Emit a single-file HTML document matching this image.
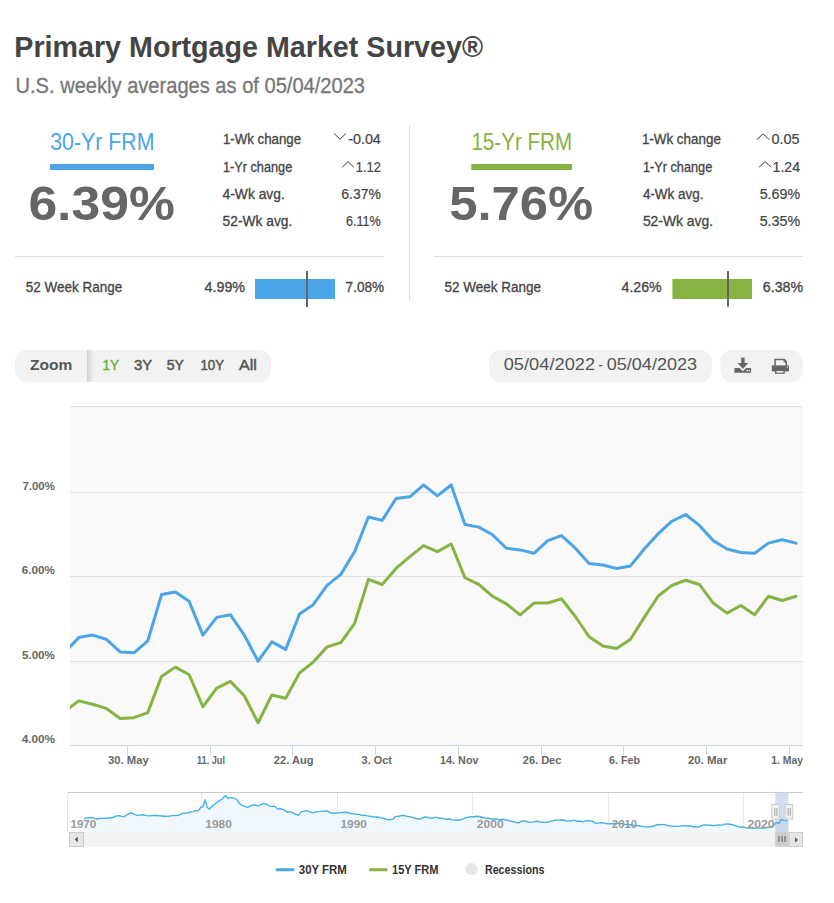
<!DOCTYPE html>
<html><head><meta charset="utf-8">
<style>
html,body{margin:0;padding:0;background:#fff;}
body{width:834px;height:903px;position:relative;overflow:hidden;}
svg{position:absolute;left:0;top:0;}
text{font-family:"Liberation Sans",sans-serif;white-space:pre;}
</style></head><body>
<svg width="834" height="903" viewBox="0 0 834 903">
<path d="M334.2 133.6 L340.0 139.2 L345.8 133.6" fill="none" stroke="#383838" stroke-width="1"/>
<path d="M342.4 167.2 L348.1 161.6 L353.8 167.2" fill="none" stroke="#383838" stroke-width="1"/>
<path d="M756.9 139.5 L763.0999999999999 133.9 L769.3 139.5" fill="none" stroke="#383838" stroke-width="1"/>
<path d="M759.1 167.2 L765.1 161.6 L771.1 167.2" fill="none" stroke="#383838" stroke-width="1"/>
<rect x="50" y="164" width="104" height="6" fill="#4ba5e6"/>
<rect x="471.3" y="164" width="100.8" height="6" fill="#86b342"/>
<path d="M15 256.5 H384" stroke="#dddddd" stroke-width="1"/>
<path d="M434 256.5 H803" stroke="#dddddd" stroke-width="1"/>
<path d="M409.5 125 V300" stroke="#dddddd" stroke-width="1"/>
<rect x="255" y="279" width="80" height="20" fill="#4ba5e6"/>
<rect x="306" y="271" width="2" height="36" fill="#666"/>
<rect x="672.4" y="279" width="79.6" height="20" fill="#86b342"/>
<rect x="727" y="271" width="2" height="35.5" fill="#666"/>
<rect x="15" y="350" width="256" height="32" rx="12" fill="#f2f2f2"/>
<rect x="87" y="350" width="1" height="32" fill="#d2d2d2"/>
<defs><linearGradient id="sh" x1="0" x2="1"><stop offset="0" stop-color="#d8d8d8"/><stop offset="1" stop-color="#f2f2f2"/></linearGradient></defs>
<rect x="88" y="350" width="6" height="32" fill="url(#sh)"/>
<rect x="489" y="350" width="223" height="32" rx="12" fill="#f2f2f2"/>
<rect x="720.3" y="350" width="82.5" height="32" rx="12" fill="#f2f2f2"/>
<g fill="#666">
<rect x="741.2" y="357.6" width="3.4" height="5.8"/>
<path d="M737.6 363 H748.2 L742.9 369 Z"/>
<path d="M734.4 368 H739.6 L742.9 371.2 L746.2 368 H751.1 V372.7 H734.4 Z"/>
</g>
<rect x="746.6" y="369.9" width="1.3" height="1.5" fill="#f2f2f2"/>
<rect x="748.7" y="369.9" width="1.3" height="1.5" fill="#f2f2f2"/>
<g fill="#666">
<path d="M774.3 358.8 H784.6 L787 361.2 V365.5 H774.3 Z"/>
<rect x="771.8" y="365.3" width="17.2" height="6.3" rx="1.3"/>
<rect x="775" y="369.6" width="9.8" height="4.2"/>
</g>
<path d="M775.8 360.3 H783.9 L785.5 361.9 V365.3 H775.8 Z" fill="#f2f2f2"/>
<path d="M784 359.4 V362 H786.5" fill="none" stroke="#666" stroke-width="0.9"/>
<rect x="776.4" y="371" width="7" height="1.6" fill="#f2f2f2"/>
<rect x="787" y="366.6" width="1" height="1" fill="#f2f2f2"/>
<rect x="70" y="406" width="733" height="339" fill="#f9f9f9"/>
<path d="M70 406.5 H803" stroke="#e0e0e0" stroke-width="1"/>
<path d="M70 492.5 H803" stroke="#e0e0e0" stroke-width="1"/>
<path d="M70 576.5 H803" stroke="#e0e0e0" stroke-width="1"/>
<path d="M70 661.5 H803" stroke="#e0e0e0" stroke-width="1"/>
<clipPath id="pc"><rect x="70" y="400" width="733" height="345"/></clipPath>
<g clip-path="url(#pc)">
<path d="M65.01 710.97 L78.80 700.85 L92.59 704.22 L106.38 708.44 L120.18 718.56 L133.97 717.71 L147.76 712.65 L161.55 676.39 L175.34 667.12 L189.14 674.71 L202.93 706.75 L216.72 688.20 L230.51 681.45 L244.30 695.79 L258.10 722.77 L271.89 694.95 L285.68 698.32 L299.47 673.02 L313.26 662.06 L327.06 646.88 L340.85 642.66 L354.64 623.26 L368.43 579.41 L382.22 584.47 L396.02 568.45 L409.81 556.64 L423.60 545.68 L437.39 551.58 L451.18 543.99 L464.98 577.73 L478.77 584.47 L492.56 596.28 L506.35 603.87 L520.14 614.83 L533.94 603.03 L547.73 603.03 L561.52 598.81 L575.31 616.52 L589.10 636.76 L602.90 646.03 L616.69 648.56 L630.48 639.29 L644.27 617.36 L658.06 596.28 L671.86 585.32 L685.65 580.26 L699.44 584.47 L713.23 603.03 L727.02 613.15 L740.82 605.56 L754.61 614.83 L768.40 596.28 L782.19 600.50 L795.98 596.28" fill="none" stroke="#86b342" stroke-width="3" stroke-linejoin="round" stroke-linecap="round"/>
<path d="M65.01 651.94 L78.80 637.60 L92.59 635.07 L106.38 639.29 L120.18 651.94 L133.97 652.78 L147.76 640.97 L161.55 594.59 L175.34 592.06 L189.14 601.34 L202.93 635.07 L216.72 617.36 L230.51 614.83 L244.30 635.07 L258.10 661.21 L271.89 641.82 L285.68 649.41 L299.47 613.99 L313.26 604.71 L327.06 585.32 L340.85 574.35 L354.64 551.58 L368.43 517.01 L382.22 520.38 L396.02 498.46 L409.81 496.77 L423.60 484.96 L437.39 495.93 L451.18 484.96 L464.98 524.60 L478.77 527.13 L492.56 534.72 L506.35 548.21 L520.14 549.90 L533.94 553.27 L547.73 540.62 L561.52 535.56 L575.31 548.21 L589.10 563.39 L602.90 565.08 L616.69 568.45 L630.48 565.92 L644.27 549.05 L658.06 533.88 L671.86 521.23 L685.65 514.48 L699.44 525.44 L713.23 540.62 L727.02 549.05 L740.82 552.43 L754.61 553.27 L768.40 543.15 L782.19 539.78 L795.98 543.15" fill="none" stroke="#4ba5e6" stroke-width="3" stroke-linejoin="round" stroke-linecap="round"/>
</g>
<path d="M70 745.5 H803" stroke="#ccd6eb" stroke-width="1"/>
<path d="M127.5 745 V755" stroke="#ccd6eb" stroke-width="1"/>
<path d="M210.5 745 V755" stroke="#ccd6eb" stroke-width="1"/>
<path d="M292.5 745 V755" stroke="#ccd6eb" stroke-width="1"/>
<path d="M375.5 745 V755" stroke="#ccd6eb" stroke-width="1"/>
<path d="M458.5 745 V755" stroke="#ccd6eb" stroke-width="1"/>
<path d="M541.5 745 V755" stroke="#ccd6eb" stroke-width="1"/>
<path d="M623.5 745 V755" stroke="#ccd6eb" stroke-width="1"/>
<path d="M706.5 745 V755" stroke="#ccd6eb" stroke-width="1"/>
<path d="M789.5 745 V755" stroke="#ccd6eb" stroke-width="1"/>
<rect x="68" y="792" width="735" height="40" fill="#fff"/>
<path d="M201.5 793 V832" stroke="#e6e6e6" stroke-width="1"/>
<path d="M337.5 793 V832" stroke="#e6e6e6" stroke-width="1"/>
<path d="M472.5 793 V832" stroke="#e6e6e6" stroke-width="1"/>
<path d="M608.5 793 V832" stroke="#e6e6e6" stroke-width="1"/>
<path d="M743.5 793 V832" stroke="#e6e6e6" stroke-width="1"/>
<path d="M67.5 793 V832" stroke="#e6e6e6" stroke-width="1"/>
<path d="M84.2 818.5 L86.9 817.9 L89.6 817.6 L92.8 817.8 L96.0 818.7 L98.5 818.7 L101.1 818.1 L103.6 818.4 L106.1 818.2 L108.7 817.8 L111.2 818.1 L113.9 817.0 L116.6 815.9 L119.1 815.8 L121.6 816.4 L124.1 816.8 L127.3 814.5 L130.6 812.9 L133.8 813.8 L137.1 815.5 L140.3 815.1 L143.5 814.8 L146.8 815.6 L150.0 815.9 L153.2 815.4 L156.5 815.5 L159.8 815.7 L163.0 816.3 L165.6 816.3 L168.2 816.4 L170.7 815.9 L173.3 815.6 L175.9 815.5 L178.8 815.2 L181.7 813.6 L184.6 813.3 L187.5 813.1 L190.3 812.0 L193.2 811.6 L195.9 810.7 L198.6 810.5 L200.7 807.3 L202.9 806.8 L205.1 799.7 L207.2 807.3 L209.4 809.0 L212.1 806.2 L214.8 804.0 L218.0 801.7 L221.2 799.7 L223.4 797.8 L225.6 795.4 L227.7 798.2 L231.0 797.6 L233.7 798.1 L236.4 799.1 L240.7 804.7 L243.0 805.6 L245.3 806.6 L247.6 807.3 L251.9 805.1 L255.1 805.3 L258.3 805.8 L261.0 804.6 L263.7 803.4 L266.9 804.5 L270.2 806.4 L274.5 806.2 L277.8 809.0 L280.5 808.8 L283.2 809.4 L287.5 812.2 L289.6 811.6 L292.5 812.6 L295.4 814.2 L298.3 815.3 L301.5 811.6 L304.2 811.1 L306.9 810.7 L309.6 811.6 L312.3 812.9 L315.0 812.3 L317.7 811.6 L320.1 811.4 L322.5 811.1 L325.0 811.3 L327.4 810.9 L331.7 813.3 L334.9 813.3 L338.2 812.9 L340.7 812.4 L343.3 812.5 L345.8 812.2 L348.5 812.7 L351.2 813.5 L353.9 813.9 L356.6 814.2 L359.3 814.4 L362.0 815.5 L364.6 815.1 L367.3 815.9 L370.2 816.2 L373.1 816.9 L376.0 817.0 L378.6 817.2 L381.2 818.1 L383.7 818.3 L386.3 819.4 L388.9 819.8 L393.2 819.1 L395.4 816.5 L398.3 816.3 L401.1 815.8 L404.0 815.3 L406.9 816.4 L409.8 816.7 L412.7 817.6 L415.0 818.3 L417.3 818.7 L419.6 819.1 L422.3 818.0 L425.0 816.8 L427.6 817.4 L430.3 818.1 L433.0 818.0 L435.7 817.2 L438.6 818.2 L441.5 818.3 L444.4 818.9 L447.0 819.3 L449.6 819.0 L452.1 819.9 L454.7 820.1 L457.3 820.2 L460.2 819.8 L463.1 818.8 L466.0 817.6 L468.7 817.1 L471.4 816.8 L474.1 816.8 L476.8 816.3 L479.7 816.5 L482.5 817.5 L485.4 818.1 L488.6 818.3 L491.9 819.1 L494.5 818.9 L497.1 819.0 L499.6 819.8 L502.2 819.3 L504.8 819.8 L508.1 820.3 L511.3 821.3 L513.8 821.7 L516.3 822.6 L518.8 822.8 L522.1 820.9 L525.0 821.0 L527.8 821.9 L530.7 822.4 L534.0 821.9 L537.2 821.3 L540.1 822.0 L542.9 822.3 L545.8 822.4 L549.0 822.0 L552.3 820.9 L555.2 820.3 L558.0 820.1 L560.9 819.8 L564.1 820.3 L567.4 821.1 L570.6 821.0 L573.9 820.2 L576.8 821.2 L579.6 821.0 L582.5 821.9 L585.4 821.0 L588.3 820.6 L592.6 821.3 L595.9 823.5 L598.6 822.9 L601.3 822.8 L604.5 823.1 L607.7 823.9 L610.6 823.8 L613.5 823.7 L616.4 823.5 L619.1 823.5 L621.8 823.6 L624.5 824.2 L627.2 824.5 L629.9 824.7 L632.6 825.1 L635.3 825.7 L638.0 825.6 L640.9 826.3 L643.7 826.6 L646.6 827.1 L649.9 826.8 L653.1 826.3 L657.4 824.5 L660.3 824.8 L663.1 824.4 L666.0 825.0 L668.9 825.8 L671.8 826.1 L674.7 826.3 L677.6 826.4 L680.4 826.1 L683.3 825.6 L685.8 825.8 L688.3 826.0 L690.8 826.0 L693.4 826.7 L695.9 826.5 L698.4 827.1 L702.7 825.2 L705.4 824.9 L708.1 825.1 L710.8 825.2 L713.5 825.6 L716.4 825.3 L719.2 824.9 L722.1 825.1 L724.8 824.1 L727.5 823.9 L730.0 824.2 L732.6 824.7 L735.1 825.6 L739.4 827.1 L741.9 827.2 L744.4 827.1 L747.0 828.1 L749.5 828.1 L752.0 827.9 L754.5 828.4 L757.1 828.1 L759.7 828.1 L762.3 828.2 L765.0 827.8 L767.8 827.3 L770.5 827.4 L774.5 824.7 L776.1 822.4 L778.9 823.3 L781.3 819.4 L784.4 820.6 L787.7 820.6 L787.7 832 L84.2 832 Z" fill="#f0f8fd"/>
<path d="M84.2 818.5 L86.9 817.9 L89.6 817.6 L92.8 817.8 L96.0 818.7 L98.5 818.7 L101.1 818.1 L103.6 818.4 L106.1 818.2 L108.7 817.8 L111.2 818.1 L113.9 817.0 L116.6 815.9 L119.1 815.8 L121.6 816.4 L124.1 816.8 L127.3 814.5 L130.6 812.9 L133.8 813.8 L137.1 815.5 L140.3 815.1 L143.5 814.8 L146.8 815.6 L150.0 815.9 L153.2 815.4 L156.5 815.5 L159.8 815.7 L163.0 816.3 L165.6 816.3 L168.2 816.4 L170.7 815.9 L173.3 815.6 L175.9 815.5 L178.8 815.2 L181.7 813.6 L184.6 813.3 L187.5 813.1 L190.3 812.0 L193.2 811.6 L195.9 810.7 L198.6 810.5 L200.7 807.3 L202.9 806.8 L205.1 799.7 L207.2 807.3 L209.4 809.0 L212.1 806.2 L214.8 804.0 L218.0 801.7 L221.2 799.7 L223.4 797.8 L225.6 795.4 L227.7 798.2 L231.0 797.6 L233.7 798.1 L236.4 799.1 L240.7 804.7 L243.0 805.6 L245.3 806.6 L247.6 807.3 L251.9 805.1 L255.1 805.3 L258.3 805.8 L261.0 804.6 L263.7 803.4 L266.9 804.5 L270.2 806.4 L274.5 806.2 L277.8 809.0 L280.5 808.8 L283.2 809.4 L287.5 812.2 L289.6 811.6 L292.5 812.6 L295.4 814.2 L298.3 815.3 L301.5 811.6 L304.2 811.1 L306.9 810.7 L309.6 811.6 L312.3 812.9 L315.0 812.3 L317.7 811.6 L320.1 811.4 L322.5 811.1 L325.0 811.3 L327.4 810.9 L331.7 813.3 L334.9 813.3 L338.2 812.9 L340.7 812.4 L343.3 812.5 L345.8 812.2 L348.5 812.7 L351.2 813.5 L353.9 813.9 L356.6 814.2 L359.3 814.4 L362.0 815.5 L364.6 815.1 L367.3 815.9 L370.2 816.2 L373.1 816.9 L376.0 817.0 L378.6 817.2 L381.2 818.1 L383.7 818.3 L386.3 819.4 L388.9 819.8 L393.2 819.1 L395.4 816.5 L398.3 816.3 L401.1 815.8 L404.0 815.3 L406.9 816.4 L409.8 816.7 L412.7 817.6 L415.0 818.3 L417.3 818.7 L419.6 819.1 L422.3 818.0 L425.0 816.8 L427.6 817.4 L430.3 818.1 L433.0 818.0 L435.7 817.2 L438.6 818.2 L441.5 818.3 L444.4 818.9 L447.0 819.3 L449.6 819.0 L452.1 819.9 L454.7 820.1 L457.3 820.2 L460.2 819.8 L463.1 818.8 L466.0 817.6 L468.7 817.1 L471.4 816.8 L474.1 816.8 L476.8 816.3 L479.7 816.5 L482.5 817.5 L485.4 818.1 L488.6 818.3 L491.9 819.1 L494.5 818.9 L497.1 819.0 L499.6 819.8 L502.2 819.3 L504.8 819.8 L508.1 820.3 L511.3 821.3 L513.8 821.7 L516.3 822.6 L518.8 822.8 L522.1 820.9 L525.0 821.0 L527.8 821.9 L530.7 822.4 L534.0 821.9 L537.2 821.3 L540.1 822.0 L542.9 822.3 L545.8 822.4 L549.0 822.0 L552.3 820.9 L555.2 820.3 L558.0 820.1 L560.9 819.8 L564.1 820.3 L567.4 821.1 L570.6 821.0 L573.9 820.2 L576.8 821.2 L579.6 821.0 L582.5 821.9 L585.4 821.0 L588.3 820.6 L592.6 821.3 L595.9 823.5 L598.6 822.9 L601.3 822.8 L604.5 823.1 L607.7 823.9 L610.6 823.8 L613.5 823.7 L616.4 823.5 L619.1 823.5 L621.8 823.6 L624.5 824.2 L627.2 824.5 L629.9 824.7 L632.6 825.1 L635.3 825.7 L638.0 825.6 L640.9 826.3 L643.7 826.6 L646.6 827.1 L649.9 826.8 L653.1 826.3 L657.4 824.5 L660.3 824.8 L663.1 824.4 L666.0 825.0 L668.9 825.8 L671.8 826.1 L674.7 826.3 L677.6 826.4 L680.4 826.1 L683.3 825.6 L685.8 825.8 L688.3 826.0 L690.8 826.0 L693.4 826.7 L695.9 826.5 L698.4 827.1 L702.7 825.2 L705.4 824.9 L708.1 825.1 L710.8 825.2 L713.5 825.6 L716.4 825.3 L719.2 824.9 L722.1 825.1 L724.8 824.1 L727.5 823.9 L730.0 824.2 L732.6 824.7 L735.1 825.6 L739.4 827.1 L741.9 827.2 L744.4 827.1 L747.0 828.1 L749.5 828.1 L752.0 827.9 L754.5 828.4 L757.1 828.1 L759.7 828.1 L762.3 828.2 L765.0 827.8 L767.8 827.3 L770.5 827.4 L774.5 824.7 L776.1 822.4 L778.9 823.3 L781.3 819.4 L784.4 820.6 L787.7 820.6" fill="none" stroke="#47b0e8" stroke-width="1.4" stroke-linejoin="round"/>
<path d="M68 792.5 H803" stroke="#cccccc" stroke-width="1"/>
<rect x="775.2" y="793" width="13.4" height="39" fill="rgba(102,133,194,0.28)"/>
<rect x="771.8" y="804.5" width="7.5" height="14.5" fill="#f2f2f2" stroke="#cccccc" stroke-width="1"/>
<path d="M774.8 808 V815.7 M776.9 808 V815.7" stroke="#999" stroke-width="0.9"/>
<rect x="785.2" y="804.5" width="7.5" height="14.5" fill="#f2f2f2" stroke="#cccccc" stroke-width="1"/>
<path d="M788.2 808 V815.7 M790.3000000000001 808 V815.7" stroke="#999" stroke-width="0.9"/>
<rect x="69" y="832" width="734" height="14.8" fill="#f2f2f2"/>
<rect x="69.5" y="832.5" width="14" height="14" fill="#e6e6e6" stroke="#cccccc" stroke-width="1"/>
<path d="M74.6 839.5 L77.8 836.8 V842.2 Z" fill="#555"/>
<rect x="775.2" y="832" width="13.4" height="14.8" fill="#cccccc"/>
<rect x="778.0" y="836.1" width="1.8" height="5.8" fill="#888"/>
<rect x="781.2" y="836.1" width="1.8" height="5.8" fill="#888"/>
<rect x="784.2" y="836.1" width="1.8" height="5.8" fill="#888"/>
<rect x="789.1" y="832.5" width="13.4" height="14" fill="#e6e6e6" stroke="#cccccc" stroke-width="1"/>
<path d="M798 839.9 L795 837.3 V842.6 Z" fill="#555"/>
<path d="M277 869.7 H293" stroke="#4ba5e6" stroke-width="3" stroke-linecap="round"/>
<path d="M370.5 869.7 H386.2" stroke="#86b342" stroke-width="3" stroke-linecap="round"/>
<circle cx="471.6" cy="869.2" r="6.1" fill="#e6e6e6"/>
<text id="title" x="14.30" y="57.00" font-size="30.14" font-weight="bold" fill="#444" textLength="468.71" lengthAdjust="spacingAndGlyphs">Primary Mortgage Market Survey®</text>
<text id="sub" x="15.50" y="93.00" font-size="21.30" font-weight="normal" fill="#777" stroke="#777" stroke-width="0.3" textLength="349.52" lengthAdjust="spacingAndGlyphs">U.S. weekly averages as of 05/04/2023</text>
<text id="h30" x="50.20" y="149.80" font-size="23.62" font-weight="normal" fill="#4ba5e6" textLength="104.32" lengthAdjust="spacingAndGlyphs">30-Yr FRM</text>
<text id="big30" x="28.40" y="220.40" font-size="48.12" font-weight="bold" fill="#666" textLength="146.50" lengthAdjust="spacingAndGlyphs">6.39%</text>
<text id="l1" x="222.90" y="143.60" font-size="14.06" font-weight="normal" fill="#444" stroke="#444" stroke-width="0.3" textLength="78.25" lengthAdjust="spacingAndGlyphs">1-Wk change</text>
<text id="l2" x="222.90" y="171.70" font-size="14.06" font-weight="normal" fill="#444" stroke="#444" stroke-width="0.3" textLength="69.37" lengthAdjust="spacingAndGlyphs">1-Yr change</text>
<text id="l3" x="222.60" y="199.00" font-size="14.06" font-weight="normal" fill="#444" stroke="#444" stroke-width="0.3" textLength="62.13" lengthAdjust="spacingAndGlyphs">4-Wk avg.</text>
<text id="l4" x="222.60" y="225.80" font-size="14.06" font-weight="normal" fill="#444" stroke="#444" stroke-width="0.3" textLength="69.80" lengthAdjust="spacingAndGlyphs">52-Wk avg.</text>
<text id="v1" x="348.20" y="143.80" font-size="14.06" font-weight="normal" fill="#444" stroke="#444" stroke-width="0.2" textLength="32.67" lengthAdjust="spacingAndGlyphs">-0.04</text>
<text id="v2" x="355.80" y="172.00" font-size="14.06" font-weight="normal" fill="#444" stroke="#444" stroke-width="0.2" textLength="25.17" lengthAdjust="spacingAndGlyphs">1.12</text>
<text id="v3" x="341.30" y="199.00" font-size="14.06" font-weight="normal" fill="#444" stroke="#444" stroke-width="0.2" textLength="39.61" lengthAdjust="spacingAndGlyphs">6.37%</text>
<text id="v4" x="346.00" y="225.80" font-size="14.06" font-weight="normal" fill="#444" stroke="#444" stroke-width="0.2" textLength="34.85" lengthAdjust="spacingAndGlyphs">6.11%</text>
<text id="r1" x="25.80" y="291.70" font-size="14.35" font-weight="normal" fill="#444" stroke="#444" stroke-width="0.3" textLength="96.45" lengthAdjust="spacingAndGlyphs">52 Week Range</text>
<text id="r2" x="204.60" y="291.70" font-size="14.35" font-weight="normal" fill="#444" stroke="#444" stroke-width="0.3" textLength="40.38" lengthAdjust="spacingAndGlyphs">4.99%</text>
<text id="r3" x="345.60" y="291.70" font-size="14.35" font-weight="normal" fill="#444" stroke="#444" stroke-width="0.3" textLength="38.46" lengthAdjust="spacingAndGlyphs">7.08%</text>
<text id="h15" x="471.40" y="149.80" font-size="23.62" font-weight="normal" fill="#86b342" textLength="100.72" lengthAdjust="spacingAndGlyphs">15-Yr FRM</text>
<text id="big15" x="449.20" y="220.40" font-size="48.12" font-weight="bold" fill="#666" textLength="144.09" lengthAdjust="spacingAndGlyphs">5.76%</text>
<text id="m1" x="641.90" y="143.60" font-size="14.06" font-weight="normal" fill="#444" stroke="#444" stroke-width="0.3" textLength="78.95" lengthAdjust="spacingAndGlyphs">1-Wk change</text>
<text id="m2" x="642.90" y="171.70" font-size="14.06" font-weight="normal" fill="#444" stroke="#444" stroke-width="0.3" textLength="69.37" lengthAdjust="spacingAndGlyphs">1-Yr change</text>
<text id="m3" x="642.90" y="199.00" font-size="14.06" font-weight="normal" fill="#444" stroke="#444" stroke-width="0.3" textLength="60.56" lengthAdjust="spacingAndGlyphs">4-Wk avg.</text>
<text id="m4" x="642.90" y="225.80" font-size="14.06" font-weight="normal" fill="#444" stroke="#444" stroke-width="0.3" textLength="70.14" lengthAdjust="spacingAndGlyphs">52-Wk avg.</text>
<text id="w1" x="771.50" y="143.80" font-size="14.06" font-weight="normal" fill="#444" stroke="#444" stroke-width="0.2" textLength="28.11" lengthAdjust="spacingAndGlyphs">0.05</text>
<text id="w2" x="772.50" y="172.00" font-size="14.06" font-weight="normal" fill="#444" stroke="#444" stroke-width="0.2" textLength="27.62" lengthAdjust="spacingAndGlyphs">1.24</text>
<text id="w3" x="759.70" y="199.00" font-size="14.06" font-weight="normal" fill="#444" stroke="#444" stroke-width="0.2" textLength="40.38" lengthAdjust="spacingAndGlyphs">5.69%</text>
<text id="w4" x="759.70" y="225.80" font-size="14.06" font-weight="normal" fill="#444" stroke="#444" stroke-width="0.2" textLength="40.38" lengthAdjust="spacingAndGlyphs">5.35%</text>
<text id="s1" x="444.60" y="291.90" font-size="14.35" font-weight="normal" fill="#444" stroke="#444" stroke-width="0.3" textLength="96.42" lengthAdjust="spacingAndGlyphs">52 Week Range</text>
<text id="s2" x="621.50" y="291.90" font-size="14.35" font-weight="normal" fill="#444" stroke="#444" stroke-width="0.3" textLength="40.20" lengthAdjust="spacingAndGlyphs">4.26%</text>
<text id="s3" x="762.80" y="291.90" font-size="14.35" font-weight="normal" fill="#444" stroke="#444" stroke-width="0.3" textLength="40.24" lengthAdjust="spacingAndGlyphs">6.38%</text>
<text id="z0" x="30.10" y="369.70" font-size="15.51" font-weight="bold" fill="#555" textLength="42.24" lengthAdjust="spacingAndGlyphs">Zoom</text>
<text id="z1" x="102.50" y="369.70" font-size="15.07" font-weight="normal" fill="#6cb33e" stroke="#6cb33e" stroke-width="0.5" textLength="16.71" lengthAdjust="spacingAndGlyphs">1Y</text>
<text id="z2" x="133.90" y="369.70" font-size="15.07" font-weight="normal" fill="#555" stroke="#555" stroke-width="0.5" textLength="18.22" lengthAdjust="spacingAndGlyphs">3Y</text>
<text id="z3" x="166.80" y="369.70" font-size="15.07" font-weight="normal" fill="#555" stroke="#555" stroke-width="0.5" textLength="17.13" lengthAdjust="spacingAndGlyphs">5Y</text>
<text id="z4" x="200.40" y="369.70" font-size="15.07" font-weight="normal" fill="#555" stroke="#555" stroke-width="0.5" textLength="23.59" lengthAdjust="spacingAndGlyphs">10Y</text>
<text id="z5" x="239.10" y="369.70" font-size="15.07" font-weight="normal" fill="#555" stroke="#555" stroke-width="0.5" textLength="17.80" lengthAdjust="spacingAndGlyphs">All</text>
<text id="d1" x="503.70" y="369.90" font-size="15.80" font-weight="normal" fill="#555" textLength="91.43" lengthAdjust="spacingAndGlyphs">05/04/2022</text>
<text id="d2" x="598.40" y="369.90" font-size="15.80" font-weight="normal" fill="#555" textLength="4.40" lengthAdjust="spacingAndGlyphs">-</text>
<text id="d3" x="606.70" y="369.90" font-size="15.80" font-weight="normal" fill="#555" textLength="90.43" lengthAdjust="spacingAndGlyphs">05/04/2023</text>
<text id="y7" x="22.50" y="490.20" font-size="11.11" font-weight="bold" fill="#666" textLength="32.36" lengthAdjust="spacingAndGlyphs">7.00%</text>
<text id="y6" x="21.80" y="574.00" font-size="11.11" font-weight="bold" fill="#666" textLength="33.15" lengthAdjust="spacingAndGlyphs">6.00%</text>
<text id="y5" x="22.00" y="659.00" font-size="11.11" font-weight="bold" fill="#666" textLength="32.85" lengthAdjust="spacingAndGlyphs">5.00%</text>
<text id="y4" x="21.70" y="743.00" font-size="11.11" font-weight="bold" fill="#666" textLength="33.36" lengthAdjust="spacingAndGlyphs">4.00%</text>
<text id="x1" x="108.10" y="764.00" font-size="10.84" font-weight="bold" fill="#666" textLength="40.66" lengthAdjust="spacingAndGlyphs">30. May</text>
<text id="x2" x="197.00" y="764.00" font-size="10.84" font-weight="bold" fill="#666" textLength="28.00" lengthAdjust="spacingAndGlyphs">11. Jul</text>
<text id="x3" x="273.80" y="764.00" font-size="10.84" font-weight="bold" fill="#666" textLength="39.66" lengthAdjust="spacingAndGlyphs">22. Aug</text>
<text id="x4" x="361.60" y="764.00" font-size="10.84" font-weight="bold" fill="#666" textLength="30.35" lengthAdjust="spacingAndGlyphs">3. Oct</text>
<text id="x5" x="440.10" y="764.00" font-size="10.84" font-weight="bold" fill="#666" textLength="38.41" lengthAdjust="spacingAndGlyphs">14. Nov</text>
<text id="x6" x="522.80" y="764.00" font-size="10.84" font-weight="bold" fill="#666" textLength="38.59" lengthAdjust="spacingAndGlyphs">26. Dec</text>
<text id="x7" x="609.00" y="764.00" font-size="10.84" font-weight="bold" fill="#666" textLength="31.00" lengthAdjust="spacingAndGlyphs">6. Feb</text>
<text id="x8" x="687.90" y="764.00" font-size="10.84" font-weight="bold" fill="#666" textLength="39.46" lengthAdjust="spacingAndGlyphs">20. Mar</text>
<text id="x9" x="771.20" y="764.00" font-size="10.84" font-weight="bold" fill="#666" textLength="31.85" lengthAdjust="spacingAndGlyphs">1. May</text>
<text id="n1" x="70.50" y="827.80" font-size="10.15" font-weight="bold" fill="#999" textLength="25.63" lengthAdjust="spacingAndGlyphs">1970</text>
<text id="n2" x="205.30" y="827.80" font-size="10.15" font-weight="bold" fill="#999" textLength="26.48" lengthAdjust="spacingAndGlyphs">1980</text>
<text id="n3" x="340.50" y="827.80" font-size="10.15" font-weight="bold" fill="#999" textLength="26.44" lengthAdjust="spacingAndGlyphs">1990</text>
<text id="n4" x="476.80" y="827.80" font-size="10.15" font-weight="bold" fill="#999" textLength="26.80" lengthAdjust="spacingAndGlyphs">2000</text>
<text id="n5" x="612.10" y="827.80" font-size="10.15" font-weight="bold" fill="#999" textLength="24.87" lengthAdjust="spacingAndGlyphs">2010</text>
<text id="n6" x="747.40" y="827.80" font-size="10.15" font-weight="bold" fill="#999" textLength="27.32" lengthAdjust="spacingAndGlyphs">2020</text>
<text id="g1" x="298.80" y="874.00" font-size="11.93" font-weight="bold" fill="#333" textLength="48.02" lengthAdjust="spacingAndGlyphs">30Y FRM</text>
<text id="g2" x="392.10" y="874.00" font-size="11.93" font-weight="bold" fill="#333" textLength="46.39" lengthAdjust="spacingAndGlyphs">15Y FRM</text>
<text id="g3" x="484.90" y="874.20" font-size="11.93" font-weight="bold" fill="#333" textLength="59.54" lengthAdjust="spacingAndGlyphs">Recessions</text>
</svg>
</body></html>
